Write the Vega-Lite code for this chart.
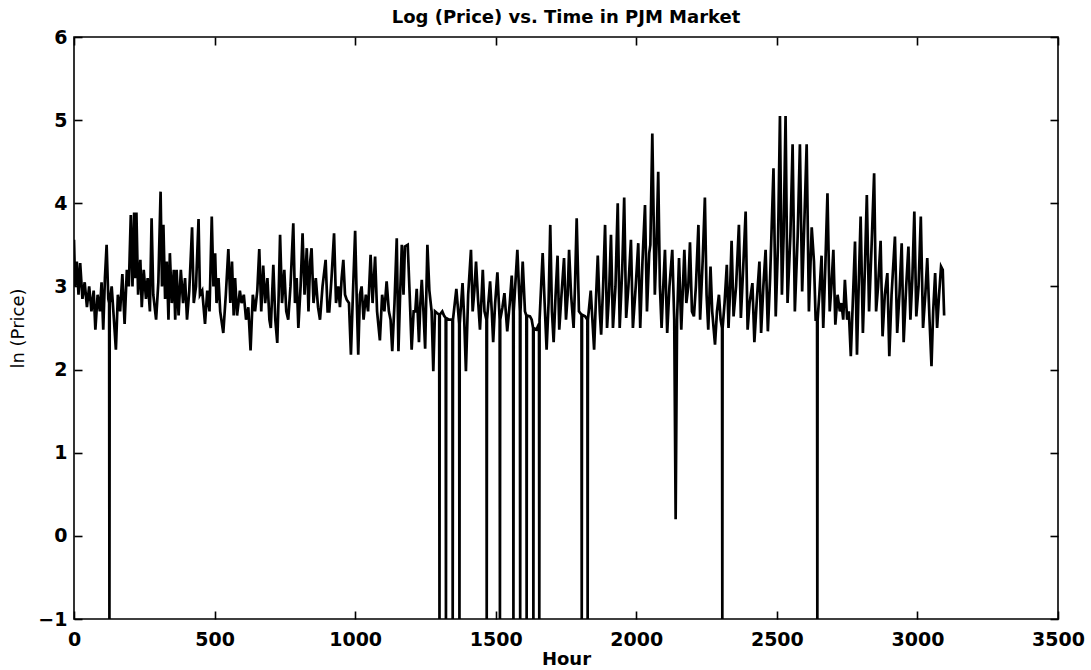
{
"$schema": "https://vega.github.io/schema/vega-lite/v6.json",
"width": 984,
"height": 582,
"autosize": "none",
"padding": {"left": 74, "top": 37, "right": 33, "bottom": 51},
"background": "white",
"title": {"text": "Log (Price) vs. Time in PJM Market", "font": "DejaVu Sans", "fontSize": 18, "fontWeight": "bold", "color": "black", "offset": 1},
"data": {"values": [
{"hour":0,"lnp":3.56},{"hour":4,"lnp":3.0},{"hour":10,"lnp":3.3},{"hour":16,"lnp":2.9},{"hour":22,"lnp":3.28},{"hour":30,"lnp":2.85},{"hour":38,"lnp":3.05},{"hour":46,"lnp":2.75},{"hour":54,"lnp":3.0},{"hour":62,"lnp":2.7},{"hour":70,"lnp":2.95},{"hour":76,"lnp":2.48},{"hour":84,"lnp":2.9},{"hour":92,"lnp":2.7},{"hour":98,"lnp":3.05},{"hour":104,"lnp":2.48},{"hour":110,"lnp":3.1},{"hour":116,"lnp":3.5},{"hour":122,"lnp":2.85},{"hour":125,"lnp":2.8},{"hour":126,"lnp":-1},{"hour":127,"lnp":2.8},{"hour":134,"lnp":3.0},{"hour":142,"lnp":2.6},{"hour":149,"lnp":2.24},{"hour":156,"lnp":2.9},{"hour":164,"lnp":2.7},{"hour":172,"lnp":3.15},{"hour":180,"lnp":2.55},{"hour":188,"lnp":3.2},{"hour":195,"lnp":3.0},{"hour":202,"lnp":3.86},{"hour":208,"lnp":3.0},{"hour":214,"lnp":3.89},{"hour":218,"lnp":3.1},{"hour":222,"lnp":3.89},{"hour":228,"lnp":2.9},{"hour":236,"lnp":3.32},{"hour":241,"lnp":2.75},{"hour":248,"lnp":3.2},{"hour":256,"lnp":2.85},{"hour":262,"lnp":3.1},{"hour":270,"lnp":2.7},{"hour":276,"lnp":3.82},{"hour":282,"lnp":2.9},{"hour":292,"lnp":2.6},{"hour":300,"lnp":3.05},{"hour":308,"lnp":4.14},{"hour":313,"lnp":3.0},{"hour":318,"lnp":3.74},{"hour":324,"lnp":2.85},{"hour":330,"lnp":3.3},{"hour":336,"lnp":2.6},{"hour":341,"lnp":3.4},{"hour":348,"lnp":2.8},{"hour":355,"lnp":3.2},{"hour":360,"lnp":2.6},{"hour":365,"lnp":3.2},{"hour":372,"lnp":2.65},{"hour":380,"lnp":3.2},{"hour":388,"lnp":2.8},{"hour":395,"lnp":3.1},{"hour":402,"lnp":2.6},{"hour":410,"lnp":2.95},{"hour":420,"lnp":3.71},{"hour":426,"lnp":2.8},{"hour":434,"lnp":3.0},{"hour":443,"lnp":3.81},{"hour":448,"lnp":2.9},{"hour":456,"lnp":2.95},{"hour":466,"lnp":2.55},{"hour":474,"lnp":2.95},{"hour":482,"lnp":2.7},{"hour":490,"lnp":3.84},{"hour":496,"lnp":3.0},{"hour":502,"lnp":3.4},{"hour":507,"lnp":2.8},{"hour":514,"lnp":3.1},{"hour":520,"lnp":2.7},{"hour":531,"lnp":2.44},{"hour":540,"lnp":2.9},{"hour":549,"lnp":3.45},{"hour":556,"lnp":2.8},{"hour":562,"lnp":3.3},{"hour":568,"lnp":2.65},{"hour":573,"lnp":3.1},{"hour":580,"lnp":2.65},{"hour":590,"lnp":2.95},{"hour":596,"lnp":2.8},{"hour":604,"lnp":2.9},{"hour":612,"lnp":2.6},{"hour":620,"lnp":2.75},{"hour":628,"lnp":2.23},{"hour":636,"lnp":2.9},{"hour":644,"lnp":2.7},{"hour":652,"lnp":2.95},{"hour":659,"lnp":3.45},{"hour":666,"lnp":2.7},{"hour":673,"lnp":3.25},{"hour":680,"lnp":2.8},{"hour":688,"lnp":3.1},{"hour":695,"lnp":2.6},{"hour":700,"lnp":2.5},{"hour":709,"lnp":3.26},{"hour":716,"lnp":2.6},{"hour":723,"lnp":2.32},{"hour":728,"lnp":2.9},{"hour":733,"lnp":3.62},{"hour":740,"lnp":2.8},{"hour":748,"lnp":3.2},{"hour":755,"lnp":2.7},{"hour":762,"lnp":2.6},{"hour":770,"lnp":3.0},{"hour":780,"lnp":3.76},{"hour":786,"lnp":2.8},{"hour":792,"lnp":3.1},{"hour":798,"lnp":2.5},{"hour":806,"lnp":3.0},{"hour":813,"lnp":3.64},{"hour":820,"lnp":2.9},{"hour":828,"lnp":3.46},{"hour":834,"lnp":2.7},{"hour":840,"lnp":3.3},{"hour":845,"lnp":3.46},{"hour":852,"lnp":2.8},{"hour":860,"lnp":3.1},{"hour":868,"lnp":2.75},{"hour":875,"lnp":2.6},{"hour":884,"lnp":3.0},{"hour":895,"lnp":3.32},{"hour":902,"lnp":2.7},{"hour":908,"lnp":2.7},{"hour":916,"lnp":3.1},{"hour":925,"lnp":3.64},{"hour":932,"lnp":2.8},{"hour":940,"lnp":3.0},{"hour":946,"lnp":2.75},{"hour":952,"lnp":3.1},{"hour":958,"lnp":3.32},{"hour":964,"lnp":2.9},{"hour":970,"lnp":2.84},{"hour":978,"lnp":2.8},{"hour":985,"lnp":2.18},{"hour":992,"lnp":2.9},{"hour":1000,"lnp":3.67},{"hour":1006,"lnp":2.8},{"hour":1011,"lnp":2.18},{"hour":1017,"lnp":2.9},{"hour":1023,"lnp":3.0},{"hour":1030,"lnp":2.6},{"hour":1038,"lnp":2.9},{"hour":1046,"lnp":2.7},{"hour":1055,"lnp":3.38},{"hour":1062,"lnp":2.8},{"hour":1071,"lnp":3.36},{"hour":1078,"lnp":2.7},{"hour":1088,"lnp":2.35},{"hour":1096,"lnp":2.9},{"hour":1104,"lnp":2.7},{"hour":1112,"lnp":3.06},{"hour":1120,"lnp":2.7},{"hour":1126,"lnp":2.6},{"hour":1132,"lnp":2.22},{"hour":1140,"lnp":2.8},{"hour":1148,"lnp":3.58},{"hour":1154,"lnp":2.22},{"hour":1160,"lnp":2.9},{"hour":1166,"lnp":3.5},{"hour":1172,"lnp":2.9},{"hour":1177,"lnp":3.48},{"hour":1187,"lnp":3.5},{"hour":1194,"lnp":2.9},{"hour":1201,"lnp":2.24},{"hour":1208,"lnp":2.7},{"hour":1214,"lnp":2.7},{"hour":1219,"lnp":2.97},{"hour":1227,"lnp":2.33},{"hour":1232,"lnp":2.8},{"hour":1237,"lnp":3.08},{"hour":1243,"lnp":2.7},{"hour":1249,"lnp":2.25},{"hour":1257,"lnp":3.5},{"hour":1264,"lnp":2.95},{"hour":1272,"lnp":2.7},{"hour":1278,"lnp":1.98},{"hour":1284,"lnp":2.7},{"hour":1291,"lnp":2.68},{"hour":1299,"lnp":2.66},{"hour":1300,"lnp":-1},{"hour":1301,"lnp":2.66},{"hour":1310,"lnp":2.7},{"hour":1316,"lnp":2.65},{"hour":1322,"lnp":2.62},{"hour":1323,"lnp":-1},{"hour":1324,"lnp":2.62},{"hour":1334,"lnp":2.6},{"hour":1346,"lnp":2.6},{"hour":1347,"lnp":-1},{"hour":1348,"lnp":2.6},{"hour":1360,"lnp":2.97},{"hour":1370,"lnp":2.55},{"hour":1371,"lnp":-1},{"hour":1372,"lnp":2.55},{"hour":1382,"lnp":3.04},{"hour":1388,"lnp":2.6},{"hour":1394,"lnp":1.98},{"hour":1402,"lnp":2.9},{"hour":1412,"lnp":3.44},{"hour":1418,"lnp":2.7},{"hour":1424,"lnp":2.95},{"hour":1430,"lnp":3.3},{"hour":1437,"lnp":2.85},{"hour":1444,"lnp":2.48},{"hour":1450,"lnp":2.9},{"hour":1454,"lnp":3.2},{"hour":1460,"lnp":2.7},{"hour":1467,"lnp":2.6},{"hour":1468,"lnp":-1},{"hour":1469,"lnp":2.6},{"hour":1480,"lnp":3.06},{"hour":1486,"lnp":2.7},{"hour":1491,"lnp":2.33},{"hour":1498,"lnp":2.8},{"hour":1506,"lnp":3.17},{"hour":1514,"lnp":2.6},{"hour":1515,"lnp":-1},{"hour":1516,"lnp":2.6},{"hour":1524,"lnp":2.75},{"hour":1531,"lnp":2.92},{"hour":1541,"lnp":2.46},{"hour":1550,"lnp":2.8},{"hour":1557,"lnp":3.13},{"hour":1562,"lnp":2.7},{"hour":1563,"lnp":-1},{"hour":1564,"lnp":2.7},{"hour":1577,"lnp":3.44},{"hour":1586,"lnp":2.7},{"hour":1587,"lnp":-1},{"hour":1588,"lnp":2.7},{"hour":1596,"lnp":3.3},{"hour":1604,"lnp":2.7},{"hour":1609,"lnp":2.65},{"hour":1610,"lnp":-1},{"hour":1611,"lnp":2.65},{"hour":1622,"lnp":2.64},{"hour":1628,"lnp":2.6},{"hour":1633,"lnp":2.5},{"hour":1634,"lnp":-1},{"hour":1635,"lnp":2.5},{"hour":1645,"lnp":2.48},{"hour":1654,"lnp":2.55},{"hour":1655,"lnp":-1},{"hour":1656,"lnp":2.6},{"hour":1667,"lnp":3.4},{"hour":1674,"lnp":2.8},{"hour":1681,"lnp":2.24},{"hour":1688,"lnp":2.8},{"hour":1694,"lnp":3.74},{"hour":1700,"lnp":2.7},{"hour":1706,"lnp":2.33},{"hour":1713,"lnp":2.9},{"hour":1720,"lnp":3.37},{"hour":1726,"lnp":2.48},{"hour":1734,"lnp":2.9},{"hour":1743,"lnp":3.34},{"hour":1750,"lnp":2.6},{"hour":1756,"lnp":2.9},{"hour":1761,"lnp":3.44},{"hour":1768,"lnp":2.9},{"hour":1777,"lnp":2.5},{"hour":1782,"lnp":3.0},{"hour":1788,"lnp":3.82},{"hour":1796,"lnp":2.7},{"hour":1805,"lnp":2.66},{"hour":1806,"lnp":-1},{"hour":1807,"lnp":2.66},{"hour":1818,"lnp":2.64},{"hour":1826,"lnp":2.6},{"hour":1827,"lnp":-1},{"hour":1828,"lnp":2.6},{"hour":1838,"lnp":2.95},{"hour":1850,"lnp":2.24},{"hour":1856,"lnp":2.8},{"hour":1863,"lnp":3.37},{"hour":1870,"lnp":2.7},{"hour":1875,"lnp":2.42},{"hour":1882,"lnp":3.0},{"hour":1889,"lnp":3.74},{"hour":1896,"lnp":2.5},{"hour":1903,"lnp":2.9},{"hour":1910,"lnp":3.62},{"hour":1917,"lnp":2.5},{"hour":1926,"lnp":3.0},{"hour":1934,"lnp":4.0},{"hour":1941,"lnp":2.5},{"hour":1950,"lnp":3.2},{"hour":1957,"lnp":4.07},{"hour":1964,"lnp":2.62},{"hour":1972,"lnp":3.0},{"hour":1981,"lnp":3.56},{"hour":1988,"lnp":2.5},{"hour":1998,"lnp":3.0},{"hour":2007,"lnp":3.52},{"hour":2014,"lnp":2.5},{"hour":2022,"lnp":3.3},{"hour":2031,"lnp":3.98},{"hour":2038,"lnp":2.7},{"hour":2046,"lnp":3.4},{"hour":2050,"lnp":3.5},{"hour":2057,"lnp":4.84},{"hour":2066,"lnp":2.9},{"hour":2072,"lnp":3.5},{"hour":2078,"lnp":4.38},{"hour":2084,"lnp":3.0},{"hour":2090,"lnp":2.5},{"hour":2096,"lnp":3.0},{"hour":2102,"lnp":3.44},{"hour":2110,"lnp":2.44},{"hour":2118,"lnp":3.0},{"hour":2128,"lnp":3.44},{"hour":2135,"lnp":2.6},{"hour":2140,"lnp":0.2},{"hour":2145,"lnp":2.6},{"hour":2152,"lnp":3.34},{"hour":2160,"lnp":2.48},{"hour":2166,"lnp":3.0},{"hour":2171,"lnp":3.44},{"hour":2178,"lnp":2.8},{"hour":2185,"lnp":3.0},{"hour":2191,"lnp":3.53},{"hour":2198,"lnp":2.7},{"hour":2205,"lnp":2.64},{"hour":2212,"lnp":3.0},{"hour":2221,"lnp":3.74},{"hour":2227,"lnp":2.6},{"hour":2236,"lnp":3.3},{"hour":2244,"lnp":4.07},{"hour":2250,"lnp":2.9},{"hour":2256,"lnp":2.48},{"hour":2264,"lnp":3.24},{"hour":2270,"lnp":2.7},{"hour":2280,"lnp":2.3},{"hour":2287,"lnp":2.7},{"hour":2294,"lnp":2.9},{"hour":2300,"lnp":2.6},{"hour":2305,"lnp":2.5},{"hour":2306,"lnp":-1},{"hour":2307,"lnp":2.5},{"hour":2314,"lnp":2.8},{"hour":2322,"lnp":3.26},{"hour":2328,"lnp":2.5},{"hour":2333,"lnp":2.9},{"hour":2339,"lnp":3.55},{"hour":2346,"lnp":2.64},{"hour":2355,"lnp":3.0},{"hour":2365,"lnp":3.74},{"hour":2372,"lnp":2.62},{"hour":2380,"lnp":3.2},{"hour":2389,"lnp":3.9},{"hour":2396,"lnp":2.48},{"hour":2403,"lnp":2.8},{"hour":2413,"lnp":3.04},{"hour":2420,"lnp":2.33},{"hour":2428,"lnp":2.8},{"hour":2438,"lnp":3.3},{"hour":2444,"lnp":2.44},{"hour":2452,"lnp":3.0},{"hour":2460,"lnp":3.44},{"hour":2468,"lnp":2.46},{"hour":2476,"lnp":3.1},{"hour":2488,"lnp":4.42},{"hour":2496,"lnp":2.64},{"hour":2504,"lnp":3.5},{"hour":2511,"lnp":5.05},{"hour":2518,"lnp":2.9},{"hour":2524,"lnp":3.6},{"hour":2531,"lnp":5.05},{"hour":2538,"lnp":2.8},{"hour":2548,"lnp":3.6},{"hour":2556,"lnp":4.71},{"hour":2564,"lnp":2.7},{"hour":2574,"lnp":3.6},{"hour":2582,"lnp":4.71},{"hour":2590,"lnp":2.94},{"hour":2598,"lnp":3.8},{"hour":2606,"lnp":4.71},{"hour":2614,"lnp":2.7},{"hour":2619,"lnp":3.2},{"hour":2624,"lnp":3.71},{"hour":2632,"lnp":3.3},{"hour":2638,"lnp":2.6},{"hour":2643,"lnp":2.6},{"hour":2644,"lnp":-1},{"hour":2645,"lnp":2.6},{"hour":2651,"lnp":2.9},{"hour":2659,"lnp":3.37},{"hour":2665,"lnp":2.5},{"hour":2672,"lnp":3.2},{"hour":2680,"lnp":4.12},{"hour":2688,"lnp":2.7},{"hour":2694,"lnp":3.0},{"hour":2701,"lnp":3.44},{"hour":2708,"lnp":2.54},{"hour":2716,"lnp":2.9},{"hour":2724,"lnp":2.7},{"hour":2730,"lnp":2.8},{"hour":2736,"lnp":2.6},{"hour":2742,"lnp":3.08},{"hour":2750,"lnp":2.6},{"hour":2756,"lnp":2.7},{"hour":2763,"lnp":2.16},{"hour":2770,"lnp":2.8},{"hour":2778,"lnp":3.54},{"hour":2785,"lnp":2.18},{"hour":2791,"lnp":3.0},{"hour":2798,"lnp":3.84},{"hour":2806,"lnp":2.44},{"hour":2813,"lnp":3.2},{"hour":2820,"lnp":4.1},{"hour":2828,"lnp":2.7},{"hour":2836,"lnp":3.4},{"hour":2846,"lnp":4.36},{"hour":2853,"lnp":2.7},{"hour":2860,"lnp":3.0},{"hour":2869,"lnp":3.55},{"hour":2876,"lnp":2.4},{"hour":2884,"lnp":2.9},{"hour":2893,"lnp":3.16},{"hour":2900,"lnp":2.16},{"hour":2908,"lnp":2.9},{"hour":2920,"lnp":3.6},{"hour":2928,"lnp":2.44},{"hour":2936,"lnp":2.9},{"hour":2944,"lnp":3.52},{"hour":2951,"lnp":2.33},{"hour":2960,"lnp":3.0},{"hour":2968,"lnp":3.48},{"hour":2975,"lnp":2.6},{"hour":2982,"lnp":3.1},{"hour":2989,"lnp":3.9},{"hour":2996,"lnp":2.64},{"hour":3004,"lnp":3.0},{"hour":3012,"lnp":3.84},{"hour":3020,"lnp":2.5},{"hour":3028,"lnp":2.9},{"hour":3035,"lnp":3.34},{"hour":3043,"lnp":2.6},{"hour":3050,"lnp":2.04},{"hour":3056,"lnp":2.7},{"hour":3063,"lnp":3.16},{"hour":3070,"lnp":2.5},{"hour":3077,"lnp":2.9},{"hour":3084,"lnp":3.24},{"hour":3090,"lnp":3.2},{"hour":3095,"lnp":2.65}
]},
"layer": [
{"mark": {"type": "line", "color": "black", "strokeWidth": 2.7, "clip": true},
 "encoding": {
  "x": {"field": "hour", "type": "quantitative", "scale": {"domain": [0, 3500], "nice": false, "zero": false},
        "axis": {"orient": "bottom", "offset": -8, "values": [0,500,1000,1500,2000,2500,3000,3500], "format": "d", "title": "Hour", "grid": false, "domain": false, "tickSize": 8, "tickWidth": 1.6, "tickColor": "black", "labelPadding": 11, "labelFont": "DejaVu Sans", "labelFontSize": 19, "labelFontWeight": "bold", "labelColor": "black", "titleFont": "DejaVu Sans", "titleFontSize": 18, "titleFontWeight": "bold", "titleColor": "black", "titlePadding": 1, "labelFlush": false, "labelOverlap": false}},
  "y": {"field": "lnp", "type": "quantitative", "scale": {"domain": [-1, 6], "nice": false, "zero": false},
        "axis": {"orient": "left", "offset": -8, "values": [-1,0,1,2,3,4,5,6], "format": "d", "title": "ln (Price)", "grid": false, "domain": false, "tickSize": 8, "tickWidth": 1.6, "tickColor": "black", "labelPadding": 7, "labelFont": "DejaVu Sans", "labelFontSize": 19, "labelFontWeight": "bold", "labelColor": "black", "titleFont": "DejaVu Sans", "titleFontSize": 18, "titleFontWeight": "normal", "titleColor": "black", "titlePadding": 10, "labelFlush": false, "labelOverlap": false}}
 }},
{"mark": {"type": "line", "opacity": 0},
 "encoding": {
  "x": {"field": "hour", "type": "quantitative", "axis": {"orient": "top", "offset": -8, "values": [0,500,1000,1500,2000,2500,3000,3500], "title": null, "labels": false, "grid": false, "domain": false, "tickSize": 8, "tickWidth": 1.6, "tickColor": "black"}},
  "y": {"field": "lnp", "type": "quantitative", "axis": {"orient": "right", "offset": -8, "values": [-1,0,1,2,3,4,5,6], "title": null, "labels": false, "grid": false, "domain": false, "tickSize": 8, "tickWidth": 1.6, "tickColor": "black"}}
 }}
],
"resolve": {"axis": {"x": "independent", "y": "independent"}},
"config": {"view": {"stroke": "black", "strokeWidth": 1.6}}
}
